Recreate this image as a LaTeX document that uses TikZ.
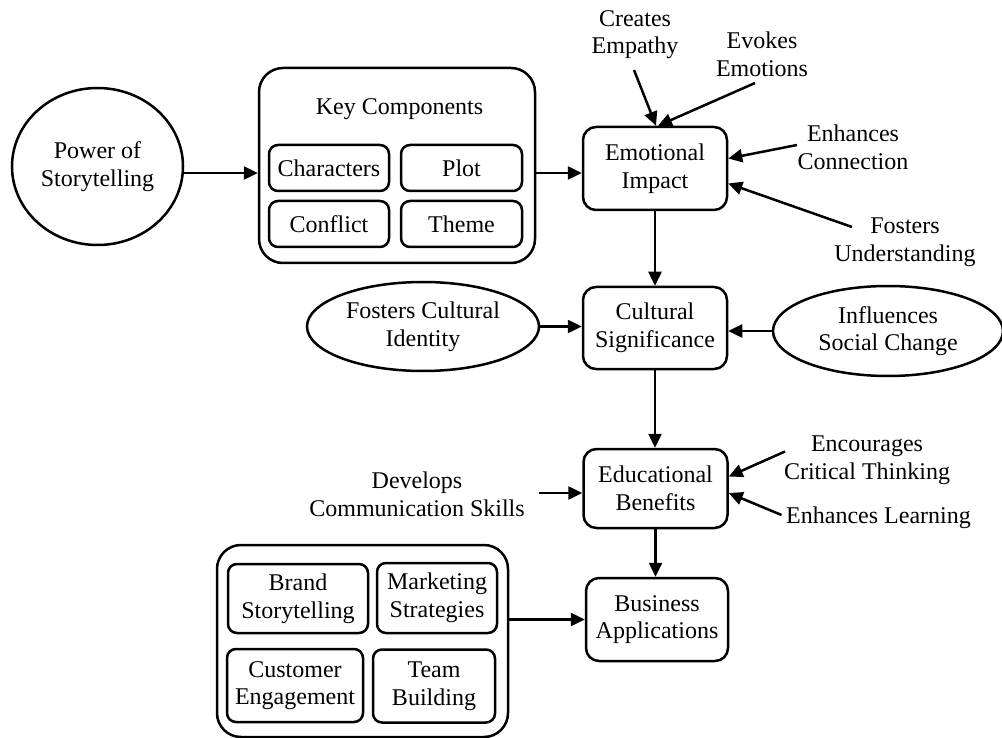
\documentclass[tikz,border=0pt]{standalone}
\usepackage{fontspec}
\setmainfont{Liberation Serif}
\usetikzlibrary{arrows.meta,shapes.geometric}
\begin{document}
\begin{tikzpicture}[x=1pt,y=-1pt,
  every node/.style={font=\fontsize{24}{27.6}\selectfont, align=center},
  lw/.style={line width=2.5pt},
  mainbox/.style={draw, lw, rounded corners=13pt, minimum width=144pt, minimum height=83pt, inner sep=0pt},
  subbox/.style={draw, lw, rounded corners=9pt, inner sep=0pt},
  groupbox/.style={draw, lw, rounded corners=24pt, inner sep=0pt},
  oval/.style={draw, lw, ellipse, inner sep=0pt},
  lbl/.style={inner sep=0pt},
  arr/.style={lw, -{Triangle[length=14pt,width=13pt]}}
]
\useasboundingbox (0,0) rectangle (1002,738);

% start node
\node[oval, minimum width=171pt, minimum height=157pt] (pos) at (97.5,166.5) {Power of\\Storytelling};

% key components group
\node[groupbox, minimum width=276pt, minimum height=195pt] (key) at (397,165.5) {};
\node[lbl] (keyt) at (399.5,109) {Key Components};
\node[subbox, minimum width=120pt, minimum height=46pt] (chr) at (329,168) {Characters};
\node[subbox, minimum width=121pt, minimum height=46pt] (plot) at (461.5,168) {Plot};
\node[subbox, minimum width=120pt, minimum height=46pt] (conf) at (329,224) {Conflict};
\node[subbox, minimum width=121pt, minimum height=46pt] (theme) at (461.5,224) {Theme};

% main chain
\node[mainbox] (ei) at (655,168.5) {Emotional\\Impact};
\node[mainbox, minimum height=82pt] (cs) at (655,328) {Cultural\\Significance};
\node[mainbox, minimum height=79pt] (eb) at (655.5,488.5) {Educational\\Benefits};
\node[mainbox, minimum width=142pt] (ba) at (657,619.5) {Business\\Applications};

% emotional impact labels
\node[lbl] (ce) at (635,34.5) {Creates\\Empathy};
\node[lbl] (ee) at (762,54) {Evokes\\Emotions};
\node[lbl] (ec) at (853,147) {Enhances\\Connection};
\node[lbl] (fu) at (905,242) {Fosters\\Understanding};

% cultural ellipses
\node[oval, minimum width=232pt, minimum height=89pt] (fci) at (423,326.5) {Fosters Cultural\\Identity};
\node[oval, minimum width=230pt, minimum height=90pt] (isc) at (888,331) {Influences\\Social Change};

% educational labels
\node[lbl] (dcs) at (417,494) {Develops\\Communication Skills};
\node[lbl] (ect) at (867,460.5) {Encourages\\Critical Thinking};
\node[lbl] (el) at (878.5,518) {Enhances Learning};

% business group
\node[groupbox, minimum width=291pt, minimum height=192pt] (bus) at (362.5,641) {};
\node[subbox, minimum width=140pt, minimum height=69pt] (brand) at (298,598.5) {Brand\\Storytelling};
\node[subbox, minimum width=120pt, minimum height=70pt] (mkt) at (437,598) {Marketing\\Strategies};
\node[subbox, minimum width=136pt, minimum height=73pt] (cust) at (295,685.5) {Customer\\Engagement};
\node[subbox, minimum width=122pt, minimum height=73pt] (team) at (434,686) {Team\\Building};

\coordinate (r1) at (0,173);

% connectors
\draw[arr] ([yshift=-6.5pt]pos.east) -- (key.west |- r1);
\draw[arr] (key.east |- r1) -- (ei.west |- r1);
\draw[arr] (ei.south) -- (cs.north);
\draw[arr] (cs.south) -- (eb.north -| cs.south);
\draw[arr] (eb.south) -- (ba.north -| eb.south);

\draw[arr] ([shift={(-1,35.5)}]ce.center) -- ([xshift=1pt]ei.north);
\draw[arr] ([shift={(-7,29)}]ee.center) -- ([xshift=3pt]ei.north);
\draw[arr] ([shift={(-56,-2)}]ec.center) -- ([yshift=10pt]ei.east);
\draw[arr] ([shift={(-53,-15)}]fu.center) -- ([yshift=-15pt]ei.east);

\draw[arr] (fci.east) -- (cs.west |- fci.east);
\draw[arr] (isc.west) -- (cs.east |- isc.west);

\draw[arr] ([shift={(122,-1)}]dcs.center) -- ([yshift=-4.5pt]eb.west);
\draw[arr] ([shift={(-82,-9)}]ect.center) -- ([yshift=12pt]eb.east);
\draw[arr] ([shift={(-97,-3)}]el.center) -- ([yshift=-4.5pt]eb.east);

\draw[arr] (bus.east |- ba.west) -- (ba.west);
\end{tikzpicture}
\end{document}
